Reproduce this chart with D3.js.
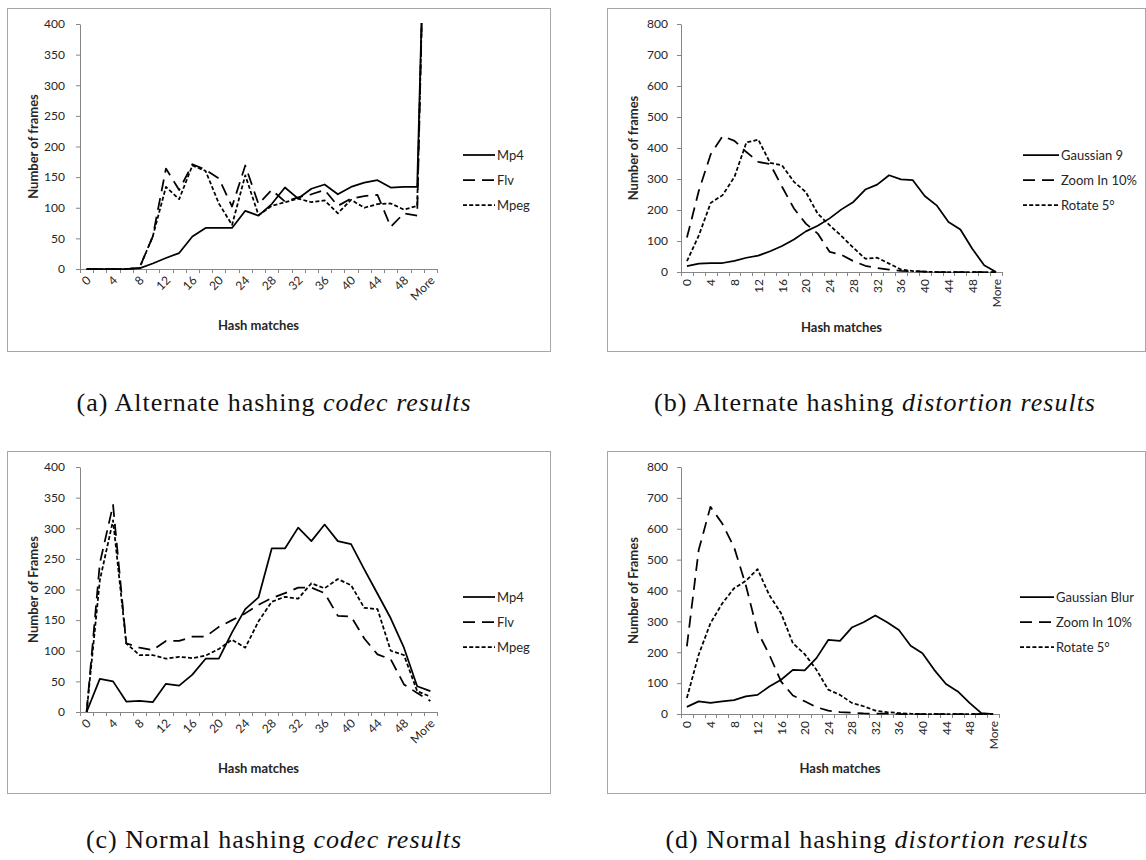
<!DOCTYPE html>
<html>
<head>
<meta charset="utf-8">
<script src="https://cdn.jsdelivr.net/npm/d3@7"></script>
<style>
  html, body { margin: 0; padding: 0; background: #fff; }
  svg { display: block; }
  .tick text { font-family: Lato, "Liberation Sans", sans-serif; font-size: 12px; fill: #262626; }
  .atitle { font-family: Lato, "Liberation Sans", sans-serif; font-size: 13px; font-weight: bold; fill: #262626; }
  .leg { font-family: Lato, "Liberation Sans", sans-serif; font-size: 13px; fill: #262626; }
  .cap { font-family: "Liberation Serif", "DejaVu Serif", serif; font-size: 26px; letter-spacing: 1px; fill: #111; }
</style>
</head>
<body>
<svg id="chart" width="1146" height="860"></svg>
<script>
// ---------- data ----------
const bins = ["0","2","4","6","8","10","12","14","16","18","20","22","24","26","28","30","32","34","36","38","40","42","44","46","48","50","More"];
const shownLabels = ["0","4","8","12","16","20","24","28","32","36","40","44","48","More"];

const codecNames = ["Mp4", "Flv", "Mpeg"];
const distAltNames = ["Gaussian 9", "Zoom In 10%", "Rotate 5°"];
const distNormNames = ["Gaussian Blur", "Zoom In 10%", "Rotate 5°"];

// (a) Alternate hashing codec results
const altMp4  = [0,0,0,0,1,9,18,26,53,67,67,67,95,87,106,133,115,131,138,122,134,141,145,133,134,134,950];
const altFlv  = [0,0,0,0,2,53,164,129,171,162,148,102,169,106,129,110,117,122,129,103,115,119,121,69,91,87,1000];
const altMpeg = [0,0,0,0,2,53,134,114,169,160,107,72,153,88,103,109,115,109,112,91,113,100,106,107,97,103,980];

// (b) Alternate hashing distortion results
const altGauss  = [19,27,29,29,36,46,53,67,84,105,131,149,173,202,226,266,282,312,299,296,245,215,161,137,75,22,0];
const altZoom   = [111,262,380,438,423,387,355,348,275,205,156,124,65,55,35,20,13,8,4,2,1,0,0,0,0,0,0];
const altRotate = [35,118,223,248,307,418,427,352,344,291,258,188,151,116,78,43,46,27,8,3,1,0,0,0,0,0,0];

// (c) Normal hashing codec results
const normMp4  = [0,54,50,17,18,16,46,43,61,87,87,130,168,187,267,267,301,279,306,279,274,233,193,153,105,42,34];
const normFlv  = [0,243,338,112,105,101,116,116,123,123,139,150,161,175,186,194,203,203,194,157,156,120,94,86,45,31,18];
const normMpeg = [0,215,313,112,93,93,87,90,88,92,103,118,105,148,180,188,185,210,202,217,207,170,168,100,93,34,25];

// (d) Normal hashing distortion results
const normGauss  = [23,41,36,41,45,57,62,89,111,143,141,181,240,237,280,297,319,297,272,221,197,143,97,73,36,3,0];
const normZoom   = [219,531,671,617,541,418,267,192,105,60,41,22,11,6,4,2,1,1,0,0,0,0,0,0,0,0,0];
const normRotate = [52,192,294,358,407,431,469,385,326,229,194,143,79,62,36,25,11,6,3,1,0,0,0,0,0,0,0];

const yTicks400 = [0,50,100,150,200,250,300,350,400];
const yTicks800 = [0,100,200,300,400,500,600,700,800];

// ---------- styles / layout ----------
const dashStyles = [null, "12,7", "4,2.2"];

const panels = [
  { id:"a", frame:[7,8,543,343], plot:{x0:80,x1:437,y0:269,y1:24}, ymax:400, yticks:yTicks400,
    rot:45, ytitle:"Number of frames", ytx:33, xty:325, names:codecNames,
    series:[altMp4, altFlv, altMpeg], leg:{x:463, w:32, y:155}, ypad:11 },
  { id:"b", frame:[607,8,538,343], plot:{x0:681,x1:1002,y0:272,y1:24}, ymax:800, yticks:yTicks800,
    rot:90, ytitle:"Number of frames", ytx:633, xty:327, names:distAltNames,
    series:[altGauss, altZoom, altRotate], leg:{x:1023, w:36, y:155}, ypad:9 },
  { id:"c", frame:[7,451,543,342], plot:{x0:80,x1:437,y0:712,y1:467}, ymax:400, yticks:yTicks400,
    rot:45, ytitle:"Number of Frames", ytx:33, xty:768, names:codecNames,
    series:[normMp4, normFlv, normMpeg], leg:{x:463, w:32, y:597}, ypad:11 },
  { id:"d", frame:[607,451,538,342], plot:{x0:681,x1:999,y0:714,y1:467}, ymax:800, yticks:yTicks800,
    rot:90, ytitle:"Number of Frames", ytx:633, xty:768, names:distNormNames,
    series:[normGauss, normZoom, normRotate], leg:{x:1020, w:34, y:597}, ypad:9 }
];

const captions = [
  { x:274, y:411, pre:"(a) Alternate hashing ", it:"codec results" },
  { x:875, y:411, pre:"(b) Alternate hashing ", it:"distortion results" },
  { x:274, y:848, pre:"(c) Normal hashing ", it:"codec results" },
  { x:877, y:848, pre:"(d) Normal hashing ", it:"distortion results" }
];

const svg = d3.select("#chart");
svg.append("rect").attr("width",1146).attr("height",860).attr("fill","#fff");
const axisColor = "#868686";

panels.forEach(p => {
  const g = svg.append("g");
  const [fx, fy, fw, fh] = p.frame;
  g.append("rect").attr("x", fx+0.5).attr("y", fy+0.5).attr("width", fw).attr("height", fh)
    .attr("fill", "none").attr("stroke", "#a6a6a6").attr("stroke-width", 1);

  const x = d3.scaleBand().domain(bins).range([p.plot.x0, p.plot.x1]).paddingInner(0).paddingOuter(0);
  const y = d3.scaleLinear().domain([0, p.ymax]).range([p.plot.y0, p.plot.y1]);
  const cx = b => x(b) + x.bandwidth()/2;

  // y axis
  const ya = d3.axisLeft(y).tickValues(p.yticks).tickSizeInner(4).tickSizeOuter(0).tickPadding(p.ypad);
  const yg = g.append("g").attr("transform", `translate(${p.plot.x0},0)`).call(ya);
  yg.select(".domain").attr("stroke", axisColor);
  yg.selectAll(".tick line").attr("stroke", axisColor);

  // x axis: labels
  const xa = d3.axisBottom(x).tickValues(shownLabels).tickSize(0).tickPadding(0);
  const xg = g.append("g").attr("transform", `translate(0,${p.plot.y0})`).call(xa);
  xg.select(".domain").remove();
  if (p.rot === 45) {
    xg.selectAll(".tick text")
      .attr("text-anchor", "end").attr("dy", null).attr("y", null)
      .attr("dominant-baseline", "central")
      .attr("transform", "translate(2,9) rotate(-45)");
  } else {
    xg.selectAll(".tick text")
      .attr("text-anchor", "end").attr("dy", null).attr("y", null)
      .attr("dominant-baseline", "central")
      .attr("transform", "translate(0,7) rotate(-90)");
  }
  // x axis line and boundary ticks
  g.append("line").attr("x1", p.plot.x0).attr("x2", p.plot.x1)
    .attr("y1", p.plot.y0+0.5).attr("y2", p.plot.y0+0.5).attr("stroke", axisColor);
  const bounds = bins.map(b => x(b)).concat([p.plot.x1]);
  g.selectAll(null).data(bounds).enter().append("line")
    .attr("x1", d => Math.round(d)+0.5).attr("x2", d => Math.round(d)+0.5)
    .attr("y1", p.plot.y0).attr("y2", p.plot.y0+4).attr("stroke", axisColor);

  // titles
  g.append("text").attr("class","atitle")
    .attr("transform", `translate(${p.ytx},${(p.plot.y0+p.plot.y1)/2}) rotate(-90)`)
    .attr("text-anchor","middle").attr("dominant-baseline","central").text(p.ytitle);
  g.append("text").attr("class","atitle")
    .attr("x", (p.plot.x0+p.plot.x1)/2).attr("y", p.xty)
    .attr("text-anchor","middle").attr("dominant-baseline","central").text("Hash matches");

  // clip
  const clipId = "clip-" + p.id;
  g.append("clipPath").attr("id", clipId).append("rect")
    .attr("x", p.plot.x0).attr("y", p.plot.y1 - 1)
    .attr("width", p.plot.x1 - p.plot.x0).attr("height", p.plot.y0 - p.plot.y1 + 2);

  const line = d3.line().x((d,i) => cx(bins[i])).y(d => y(d));
  const lg = g.append("g").attr("clip-path", `url(#${clipId})`);
  p.series.forEach((s, k) => {
    lg.append("path").datum(s).attr("d", line)
      .attr("fill","none").attr("stroke","#000").attr("stroke-width",1.75)
      .attr("stroke-linejoin","round")
      .attr("stroke-dasharray", dashStyles[k]);
  });

  // legend
  p.names.forEach((n, k) => {
    const ly = p.leg.y + k*25;
    g.append("line").attr("x1", p.leg.x).attr("x2", p.leg.x + p.leg.w)
      .attr("y1", ly).attr("y2", ly).attr("stroke","#000").attr("stroke-width",1.75)
      .attr("stroke-dasharray", dashStyles[k]);
    g.append("text").attr("class","leg").attr("x", p.leg.x + p.leg.w + 2).attr("y", ly)
      .attr("dominant-baseline","central").text(n);
  });
});

captions.forEach(c => {
  const t = svg.append("text").attr("class","cap").attr("x", c.x).attr("y", c.y).attr("text-anchor","middle");
  t.append("tspan").text(c.pre);
  t.append("tspan").attr("font-style","italic").text(c.it);
});
</script>
</body>
</html>
